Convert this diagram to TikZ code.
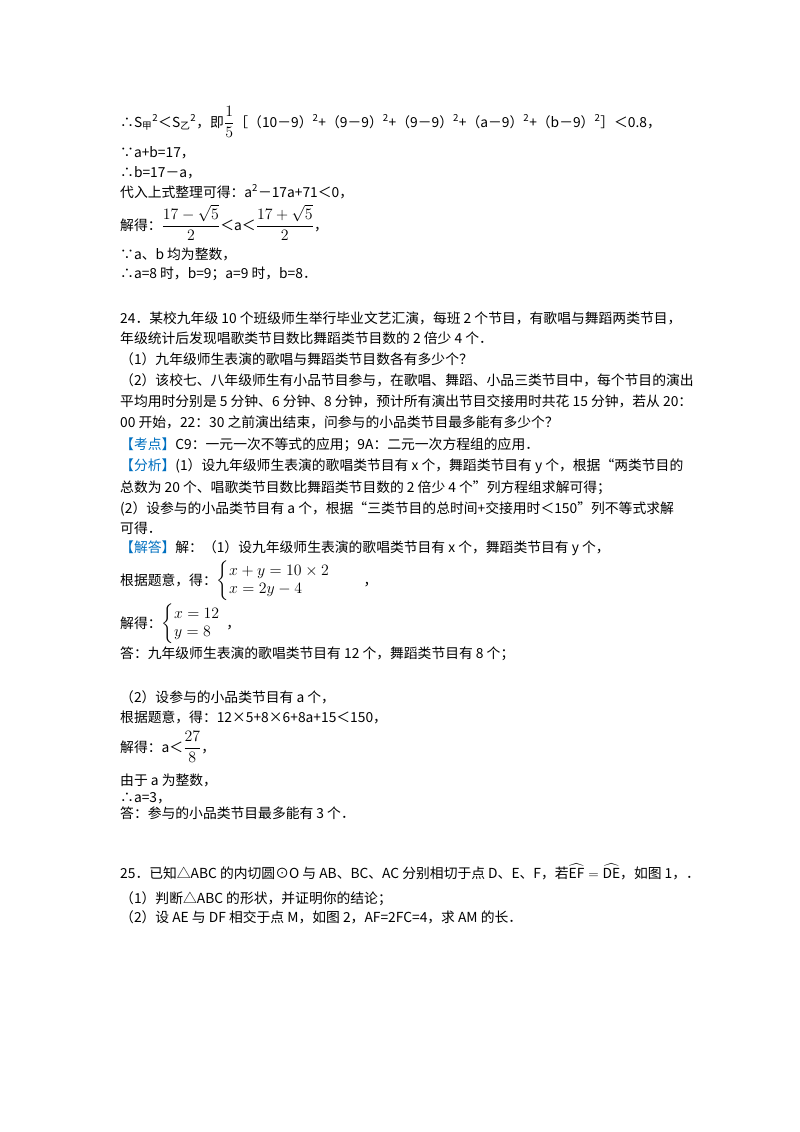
\RequirePackage{fix-cm}
\documentclass[tikz,border=0pt]{standalone}
\usepackage{amsmath}
\usepackage{fontspec}
\setmainfont{Noto Sans CJK SC}
\definecolor{kb}{RGB}{0,112,192}
\newcommand{\mybig}[1]{\scalebox{1.15}{#1}}
\begin{document}
\begin{tikzpicture}[x=1pt,y=-1pt,ln/.style={anchor=base west,inner sep=0pt,font=\fontsize{13.8}{16}\selectfont}]
\useasboundingbox[fill=white] (0,0) rectangle (800,1132);
\node[ln] (l1) at (120,127) {∴S\textsubscript{甲}\textsuperscript{2}＜S\textsubscript{乙}\textsuperscript{2}，即\mybig{$\dfrac{1}{5}$}［（10－9）\textsuperscript{2}+（9－9）\textsuperscript{2}+（9－9）\textsuperscript{2}+（a－9）\textsuperscript{2}+（b－9）\textsuperscript{2}］＜0.8，};
\node[ln] (l2) at (120,157) {∵a+b=17，};
\node[ln] (l3) at (120,177) {∴b=17－a，};
\node[ln] (l4) at (120,197) {代入上式整理可得：a\textsuperscript{2}－17a+71＜0，};
\node[ln] (l5) at (120,230) {解得：\mybig{$\dfrac{17-\sqrt5}{2}$}＜a＜\mybig{$\dfrac{17+\sqrt5}{2}$}，};
\node[ln] (l6) at (120,259) {∵a、b 均为整数，};
\node[ln] (l7) at (120,278) {∴a=8 时，b=9；a=9 时，b=8．};
\node[ln] (m1) at (120,323) {24．某校九年级 10 个班级师生举行毕业文艺汇演，每班 2 个节目，有歌唱与舞蹈两类节目，};
\node[ln] (m2) at (120,343) {年级统计后发现唱歌类节目数比舞蹈类节目数的 2 倍少 4 个．};
\node[ln] (m3) at (120,364) {（1）九年级师生表演的歌唱与舞蹈类节目数各有多少个？};
\node[ln] (m4) at (120,385) {（2）该校七、八年级师生有小品节目参与，在歌唱、舞蹈、小品三类节目中，每个节目的演出};
\node[ln] (m5) at (120,406) {平均用时分别是 5 分钟、6 分钟、8 分钟，预计所有演出节目交接用时共花 15 分钟，若从 20：};
\node[ln] (m6) at (120,427) {00 开始，22：30 之前演出结束，问参与的小品类节目最多能有多少个？};
\node[ln] (m7) at (120,449) {\textcolor{kb}{【考点】}C9：一元一次不等式的应用；9A：二元一次方程组的应用．};
\node[ln] (m8) at (120,470) {\textcolor{kb}{【分析】}(1）设九年级师生表演的歌唱类节目有 x 个，舞蹈类节目有 y 个，根据“两类节目的};
\node[ln] (m9) at (120,492) {总数为 20 个、唱歌类节目数比舞蹈类节目数的 2 倍少 4 个”列方程组求解可得；};
\node[ln] (m10) at (120,513) {(2）设参与的小品类节目有 a 个，根据“三类节目的总时间+交接用时＜150”列不等式求解};
\node[ln] (m11) at (120,533) {可得．};
\node[ln] (m12) at (120,552) {\textcolor{kb}{【解答】}解：（1）设九年级师生表演的歌唱类节目有 x 个，舞蹈类节目有 y 个，};
\node[ln] (m13) at (120,585) {根据题意，得：\mybig{$\left\{\begin{array}{@{}l}x+y=10\times 2\\ x=2y-4\end{array}\right.$}\qquad，};
\node[ln] (m14) at (120,628) {解得：\mybig{$\left\{\begin{array}{@{}l}x=12\\ y=8\end{array}\right.$}，};
\node[ln] (m15) at (120,658) {答：九年级师生表演的歌唱类节目有 12 个，舞蹈类节目有 8 个；};
\node[ln] (n1) at (120,702) {（2）设参与的小品类节目有 a 个，};
\node[ln] (n2) at (120,722) {根据题意，得：12×5+8×6+8a+15＜150，};
\node[ln] (n3) at (120,752) {解得：a＜\mybig{$\dfrac{27}{8}$}，};
\node[ln] (n4) at (120,785) {由于 a 为整数，};
\node[ln] (n5) at (120,802) {∴a=3，};
\node[ln] (n6) at (120,818) {答：参与的小品类节目最多能有 3 个．};
\node[ln] (p1) at (120,878) {25．已知△ABC 的内切圆⊙O 与 AB、BC、AC 分别相切于点 D、E、F，若$\widehat{\mathrm{EF}}=\widehat{\mathrm{DE}}$，如图 1，．};
\node[ln] (p2) at (120,903) {（1）判断△ABC 的形状，并证明你的结论；};
\node[ln] (p3) at (120,922) {（2）设 AE 与 DF 相交于点 M，如图 2，AF=2FC=4，求 AM 的长．};
\end{tikzpicture}
\end{document}
